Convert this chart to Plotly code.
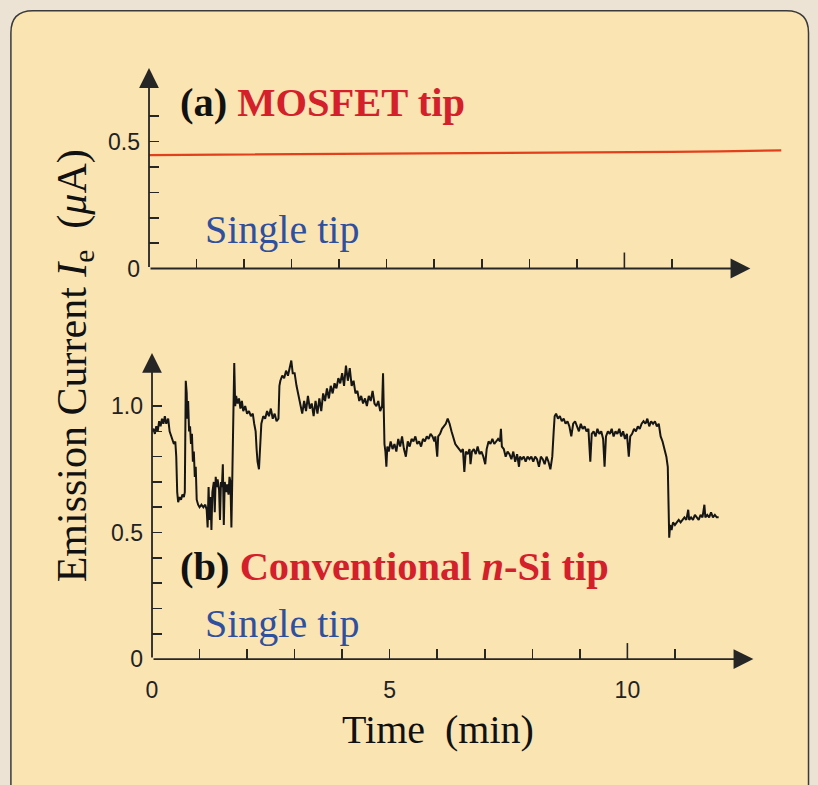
import plotly.graph_objects as go

# ---------------- data ----------------
# (a) MOSFET tip: emission current (uA) vs time (min)
t_mosfet = [0, 1, 2, 3, 4, 5, 6, 7, 8, 9, 10, 11, 12, 13, 13.3]
i_mosfet = [0.447, 0.448, 0.449, 0.451, 0.452, 0.453, 0.455, 0.456, 0.457, 0.458,
            0.459, 0.460, 0.462, 0.464, 0.466]

# (b) Conventional n-Si tip
t_nsi = [0.00, 0.03, 0.06, 0.09, 0.12, 0.15, 0.18, 0.21, 0.24, 0.27, 0.30, 0.34, 0.37, 0.40, 0.43,
         0.46, 0.49, 0.51, 0.53, 0.55, 0.58, 0.61, 0.64, 0.67, 0.69, 0.70, 0.71, 0.73, 0.74, 0.76,
         0.78, 0.80, 0.82, 0.84, 0.86, 0.88, 0.90, 0.92, 0.94, 0.97, 1.00, 1.04, 1.08, 1.12, 1.15,
         1.17, 1.19, 1.21, 1.23, 1.25, 1.27, 1.30, 1.32, 1.34, 1.36, 1.38, 1.41, 1.43, 1.45, 1.47,
         1.49, 1.51, 1.53, 1.56, 1.58, 1.61, 1.63, 1.65, 1.67, 1.69, 1.71, 1.73, 1.75, 1.77, 1.80,
         1.83, 1.86, 1.89, 1.92, 1.96, 2.00, 2.04, 2.08, 2.12, 2.15, 2.18, 2.20, 2.22, 2.25, 2.27,
         2.30, 2.34, 2.38, 2.42, 2.46, 2.50, 2.54, 2.58, 2.62, 2.66, 2.68, 2.70, 2.74, 2.78, 2.82,
         2.86, 2.90, 2.93, 2.96, 3.00, 3.04, 3.08, 3.12, 3.16, 3.20, 3.24, 3.28, 3.32, 3.36, 3.40,
         3.44, 3.48, 3.52, 3.56, 3.60, 3.64, 3.68, 3.72, 3.76, 3.80, 3.84, 3.88, 3.92, 3.96, 4.00,
         4.04, 4.08, 4.12, 4.16, 4.20, 4.24, 4.28, 4.32, 4.36, 4.40, 4.44, 4.48, 4.52, 4.56, 4.60,
         4.64, 4.68, 4.72, 4.76, 4.80, 4.84, 4.86, 4.87, 4.89, 4.91, 4.93, 4.95, 4.98, 5.02, 5.06,
         5.10, 5.14, 5.18, 5.22, 5.26, 5.30, 5.34, 5.38, 5.42, 5.46, 5.50, 5.54, 5.58, 5.62, 5.66,
         5.70, 5.74, 5.78, 5.82, 5.86, 5.90, 5.94, 5.96, 6.00, 6.02, 6.06, 6.10, 6.14, 6.18, 6.22,
         6.26, 6.30, 6.34, 6.38, 6.42, 6.46, 6.50, 6.54, 6.57, 6.60, 6.64, 6.68, 6.70, 6.73, 6.77,
         6.81, 6.85, 6.89, 6.93, 6.97, 7.01, 7.04, 7.08, 7.12, 7.16, 7.20, 7.24, 7.28, 7.32, 7.34,
         7.36, 7.40, 7.44, 7.48, 7.52, 7.56, 7.60, 7.64, 7.68, 7.72, 7.74, 7.78, 7.82, 7.86, 7.90,
         7.94, 7.98, 8.02, 8.06, 8.10, 8.14, 8.18, 8.22, 8.26, 8.30, 8.34, 8.38, 8.42, 8.45, 8.47,
         8.50, 8.54, 8.58, 8.62, 8.66, 8.70, 8.74, 8.78, 8.82, 8.86, 8.90, 8.94, 8.98, 9.02, 9.06,
         9.10, 9.14, 9.18, 9.22, 9.25, 9.29, 9.33, 9.37, 9.41, 9.45, 9.49, 9.52, 9.55, 9.59, 9.63,
         9.67, 9.71, 9.75, 9.79, 9.83, 9.87, 9.91, 9.95, 9.99, 10.03, 10.06, 10.10, 10.14, 10.18,
         10.22, 10.26, 10.30, 10.34, 10.38, 10.42, 10.46, 10.50, 10.54, 10.58, 10.62, 10.66, 10.70,
         10.74, 10.78, 10.82, 10.85, 10.87, 10.88, 10.90, 10.93, 10.96, 11.00, 11.04, 11.08, 11.12,
         11.16, 11.20, 11.24, 11.28, 11.30, 11.34, 11.38, 11.42, 11.46, 11.50, 11.54, 11.58, 11.62,
         11.64, 11.68, 11.72, 11.76, 11.80, 11.84, 11.88, 11.92]
i_nsi = [0.90, 0.91, 0.89, 0.92, 0.90, 0.94, 0.92, 0.95, 0.93, 0.96, 0.93, 0.95, 0.90, 0.88, 0.87,
         0.85, 0.86, 0.80, 0.66, 0.62, 0.64, 0.63, 0.65, 0.64, 0.66, 0.85, 1.10, 1.05, 0.95, 1.02,
         0.90, 0.92, 0.85, 0.89, 0.78, 0.82, 0.72, 0.76, 0.63, 0.61, 0.60, 0.61, 0.60, 0.61, 0.59,
         0.52, 0.68, 0.55, 0.64, 0.51, 0.66, 0.70, 0.58, 0.72, 0.68, 0.71, 0.67, 0.55, 0.70, 0.68,
         0.77, 0.53, 0.70, 0.66, 0.69, 0.65, 0.72, 0.70, 0.52, 0.73, 0.90, 1.17, 1.00, 1.04, 1.01,
         1.03, 0.99, 1.02, 0.98, 1.00, 0.97, 0.98, 0.96, 0.97, 0.93, 0.90, 0.83, 0.78, 0.75, 0.84,
         0.93, 0.96, 0.95, 0.98, 0.96, 0.99, 0.95, 0.97, 0.94, 0.95, 1.08, 1.10, 1.12, 1.11, 1.14,
         1.12, 1.15, 1.18, 1.13, 1.13, 1.08, 1.04, 1.00, 0.97, 1.02, 0.98, 1.04, 0.99, 1.01, 0.96,
         1.02, 0.97, 1.03, 0.98, 1.05, 1.02, 1.07, 1.03, 1.08, 1.05, 1.09, 1.07, 1.11, 1.09, 1.13,
         1.08, 1.16, 1.10, 1.15, 1.08, 1.10, 1.05, 1.06, 1.02, 1.04, 1.01, 1.03, 1.00, 1.04, 1.02,
         1.06, 1.01, 1.00, 1.02, 0.98, 1.00, 1.13, 0.95, 0.85, 0.82, 0.76, 0.84, 0.82, 0.86, 0.83,
         0.85, 0.82, 0.87, 0.84, 0.88, 0.83, 0.80, 0.86, 0.84, 0.87, 0.86, 0.88, 0.85, 0.86, 0.84,
         0.87, 0.86, 0.88, 0.87, 0.89, 0.88, 0.86, 0.88, 0.80, 0.88, 0.89, 0.91, 0.92, 0.93, 0.95,
         0.93, 0.90, 0.87, 0.85, 0.84, 0.83, 0.82, 0.83, 0.74, 0.82, 0.81, 0.83, 0.77, 0.82, 0.83,
         0.81, 0.84, 0.81, 0.82, 0.80, 0.77, 0.83, 0.86, 0.85, 0.87, 0.85, 0.86, 0.87, 0.86, 0.91,
         0.84, 0.83, 0.80, 0.82, 0.81, 0.79, 0.82, 0.78, 0.81, 0.76, 0.80, 0.79, 0.80, 0.78, 0.80,
         0.79, 0.80, 0.78, 0.80, 0.79, 0.76, 0.80, 0.79, 0.77, 0.80, 0.78, 0.75, 0.80, 0.90, 0.96,
         0.97, 0.95, 0.96, 0.94, 0.95, 0.93, 0.94, 0.92, 0.88, 0.93, 0.94, 0.92, 0.90, 0.93, 0.91,
         0.92, 0.90, 0.91, 0.78, 0.89, 0.90, 0.88, 0.91, 0.89, 0.90, 0.87, 0.76, 0.88, 0.90, 0.89,
         0.91, 0.88, 0.90, 0.89, 0.91, 0.88, 0.90, 0.87, 0.89, 0.80, 0.88, 0.89, 0.91, 0.90,
         0.92, 0.91, 0.93, 0.94, 0.93, 0.95, 0.92, 0.94, 0.93, 0.94, 0.92, 0.93, 0.88,
         0.86, 0.83, 0.80, 0.76, 0.55, 0.48, 0.53, 0.51, 0.54, 0.53, 0.54, 0.55, 0.54,
         0.55, 0.56, 0.55, 0.59, 0.55, 0.56, 0.55, 0.57, 0.56, 0.55, 0.57, 0.56, 0.61,
         0.56, 0.57, 0.56, 0.58, 0.56, 0.57, 0.56, 0.56]

x_ticks = list(range(0, 12))
x_ticklabels = ["0", "", "", "", "", "5", "", "", "", "", "10", ""]
y_ticks_top = [0, 0.1, 0.2, 0.3, 0.4, 0.5, 0.6]
y_ticklabels_top = ["0", "", "", "", "", "0.5", ""]
y_ticks_bot = [0, 0.1, 0.2, 0.3, 0.4, 0.5, 0.6, 0.7, 0.8, 0.9, 1.0]
y_ticklabels_bot = ["0", "", "", "", "", "0.5", "", "", "", "", "1.0"]

# ---------------- layout helpers ----------------
W, H = 818, 785
# the page photo comes out slightly shrunk; map target picture pixels to layout pixels
KX, OX = 0.9919, 6.1
KY, OY = 0.9846, 0.17
def lx(p):
    return (p - OX) / KX
def ly(p):
    return (p - OY) / KY
def px(p):
    return lx(p) / W
def py(p):
    return 1 - ly(p) / H

AXC = "#262626"
SERIF = "Liberation Serif, Times New Roman, serif"
SANS = "Liberation Sans, Arial, sans-serif"
RED = "#d4202a"
BLUE = "#2f4f9f"
INNER = "#fae4b2"
OUTER = "#ece3d4"

fig = go.Figure()
fig.add_trace(go.Scatter(x=t_mosfet, y=i_mosfet, mode="lines",
                         line=dict(color="#e2401c", width=2.2),
                         xaxis="x", yaxis="y", showlegend=False, hoverinfo="skip"))
fig.add_trace(go.Scatter(x=t_nsi, y=i_nsi, mode="lines",
                         line=dict(color="#161616", width=2.0),
                         xaxis="x2", yaxis="y2", showlegend=False, hoverinfo="skip"))

# picture pixels of the axes origins and scales (from the reference)
x0t, y0t = 149, 269      # top panel origin
x0b, y0b = 152, 660      # bottom panel origin
sx = 47.5                # px per minute
syt, syb = 254.0, 253.3  # px per uA
xr_top = [0, 13.4]
yr_top = [0, 0.85]
xr_bot = [0, 13.4]
yr_bot = [0, 1.25]

TICKFONT = dict(family=SANS, size=23, color="#222")
common_x = dict(showgrid=False, zeroline=False, showline=False, ticks="inside",
                ticklen=10, tickwidth=1.6, tickcolor=AXC, tickvals=x_ticks,
                tickfont=TICKFONT)
common_y = dict(showgrid=False, zeroline=False, showline=False, ticks="inside",
                ticklen=10, tickwidth=1.6, tickcolor=AXC, tickfont=TICKFONT)

fig.update_layout(
    width=W, height=H, autosize=False, hovermode=False,
    margin=dict(l=0, r=0, t=0, b=0),
    paper_bgcolor=OUTER, plot_bgcolor="rgba(0,0,0,0)",
    xaxis=dict(common_x, range=xr_top, anchor="y",
               domain=[px(x0t), px(x0t + sx * xr_top[1])],
               ticktext=[""] * len(x_ticks)),
    yaxis=dict(common_y, range=yr_top, anchor="x",
               domain=[py(y0t), py(y0t - syt * yr_top[1])],
               tickvals=y_ticks_top, ticktext=y_ticklabels_top, ticklabelstandoff=8),
    xaxis2=dict(common_x, range=xr_bot, anchor="y2",
                domain=[px(x0b), px(x0b + sx * xr_bot[1])],
                ticktext=x_ticklabels, ticklabelstandoff=15),
    yaxis2=dict(common_y, range=yr_bot, anchor="x2",
                domain=[py(y0b), py(y0b - syb * yr_bot[1])],
                tickvals=y_ticks_bot, ticktext=y_ticklabels_bot, ticklabelstandoff=8),
)

# rounded frame
L, T, R, B, rad = 11, 11, 808, 800, 22
path = (f"M {px(L)},{py(T + rad)} Q {px(L)},{py(T)} {px(L + rad)},{py(T)} "
        f"L {px(R - rad)},{py(T)} Q {px(R)},{py(T)} {px(R)},{py(T + rad)} "
        f"L {px(R)},{py(B)} L {px(L)},{py(B)} Z")
shapes = [dict(type="path", xref="paper", yref="paper", path=path,
               fillcolor=INNER, line=dict(color="#3a3a3a", width=1.5), layer="below")]
# longer ticks at 10 min
shapes.append(dict(type="line", xref="x", yref="paper", x0=10, x1=10,
                   y0=py(y0t), y1=py(y0t - 16), line=dict(color=AXC, width=1.6)))
shapes.append(dict(type="line", xref="x2", yref="paper", x0=10, x1=10,
                   y0=py(y0b), y1=py(y0b - 16), line=dict(color=AXC, width=1.6)))
fig.update_layout(shapes=shapes)

annotations = []
# axis lines with arrow heads
for xa, ya, xend, yend in [("x", "y", 12.65, 0.79), ("x2", "y2", 12.65, 1.21)]:
    annotations.append(dict(x=xend, y=0, ax=0, ay=0, xref=xa, yref=ya, axref=xa, ayref=ya,
                            text="", showarrow=True, arrowhead=2, arrowsize=2.2,
                            arrowwidth=1.8, arrowcolor=AXC, standoff=0))
    annotations.append(dict(x=0, y=yend, ax=0, ay=0, xref=xa, yref=ya, axref=xa, ayref=ya,
                            text="", showarrow=True, arrowhead=2, arrowsize=2.2,
                            arrowwidth=1.8, arrowcolor=AXC, standoff=0))

def label(text, xp, yp, size, color="#111", anchor="left"):
    annotations.append(dict(text=text, x=px(xp), y=py(yp), xref="paper", yref="paper",
                            xanchor=anchor, yanchor="middle", showarrow=False,
                            font=dict(family=SERIF, size=size, color=color)))

label(f"<b>(a) <span style='color:{RED}'>MOSFET tip</span></b>", 178, 103, 40.5)
label("Single tip", 203, 230, 40, BLUE)
label(f"<b>(b) <span style='color:{RED}'>Conventional <i>n</i>-Si tip</span></b>", 178, 567, 40.5)
label("Single tip", 203, 624, 40, BLUE)
label("Time  (min)", 438, 731, 40, "#111", anchor="center")
annotations.append(dict(text="Emission Current <i>I</i><sub>e</sub>  (<i>μ</i>A)",
                        x=px(75), y=py(366), xref="paper", yref="paper",
                        xanchor="center", yanchor="middle", textangle=-90, showarrow=False,
                        font=dict(family=SERIF, size=42, color="#111")))
fig.update_layout(annotations=annotations)

fig.write_html("out.html", config={"displayModeBar": False, "staticPlot": True},
               post_script="document.body.style.margin='0';document.body.style.padding='0';"
                           "document.body.style.overflow='hidden';"
                           "document.body.style.background='" + OUTER + "';")
